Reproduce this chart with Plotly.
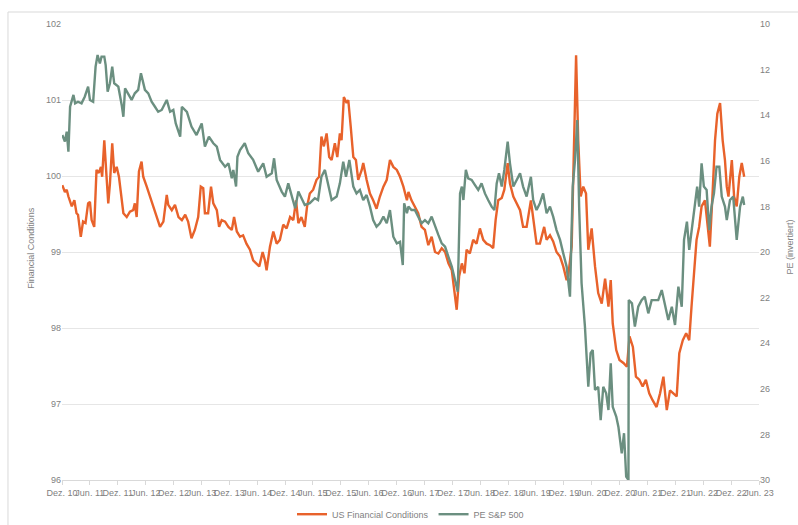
import plotly.graph_objects as go

# ---------------- data ----------------
fc_dates = [
    "2010-12-03","2010-12-20","2011-01-01","2011-01-12","2011-02-03","2011-02-20","2011-03-06","2011-03-16",
    "2011-04-03","2011-04-18","2011-05-04","2011-05-21","2011-06-02","2011-06-13","2011-06-30","2011-07-15",
    "2011-07-30","2011-08-13","2011-08-21","2011-09-04","2011-09-20","2011-09-30","2011-10-11","2011-10-26",
    "2011-11-08","2011-11-24","2011-12-09","2011-12-27","2012-01-07","2012-01-29","2012-02-19","2012-03-11",
    "2012-03-22","2012-04-03","2012-04-18","2012-05-05","2012-05-16","2012-06-08","2012-06-29","2012-07-21",
    "2012-08-12","2012-09-03","2012-09-25","2012-10-17","2012-10-27","2012-11-19","2012-12-10","2013-01-02",
    "2013-01-24","2013-02-15","2013-03-06","2013-03-28","2013-04-19","2013-05-11","2013-05-28","2013-06-13",
    "2013-06-24","2013-07-15","2013-08-03","2013-08-18","2013-09-10","2013-09-25","2013-10-12","2013-11-03",
    "2013-11-25","2013-12-17","2014-01-01","2014-01-19","2014-02-09","2014-03-01","2014-03-23","2014-04-15",
    "2014-05-06","2014-05-28","2014-06-15","2014-07-07","2014-07-22","2014-08-02","2014-08-24","2014-09-15",
    "2014-10-07","2014-10-28","2014-11-19","2014-12-11","2015-01-03","2015-01-24","2015-02-11","2015-02-26",
    "2015-03-18","2015-04-09","2015-04-24","2015-05-12","2015-06-03","2015-06-25","2015-07-12","2015-07-27",
    "2015-08-12","2015-08-30","2015-09-16","2015-10-02","2015-10-23","2015-11-08","2015-11-25","2015-12-06",
    "2015-12-21","2016-01-08","2016-01-19","2016-02-04","2016-02-21","2016-03-09","2016-03-24","2016-04-16",
    "2016-04-26","2016-05-18","2016-06-09","2016-06-30","2016-07-22","2016-08-13","2016-09-05","2016-09-27",
    "2016-10-18","2016-11-09","2016-12-02","2016-12-23","2017-01-14","2017-02-06","2017-02-16","2017-03-08",
    "2017-03-30","2017-04-21","2017-05-13","2017-06-04","2017-06-26","2017-07-18","2017-08-09","2017-08-31",
    "2017-09-22","2017-10-14","2017-11-05","2017-11-27","2017-12-13","2017-12-29","2018-01-14","2018-02-01",
    "2018-02-18","2018-03-04","2018-03-25","2018-04-16","2018-05-08","2018-05-30","2018-06-21","2018-07-13",
    "2018-08-04","2018-08-25","2018-09-10","2018-09-27","2018-10-20","2018-11-06","2018-11-28","2018-12-13",
    "2019-01-04","2019-01-26","2019-02-17","2019-03-09","2019-04-01","2019-04-29","2019-05-14","2019-06-05",
    "2019-06-27","2019-07-25","2019-08-10","2019-09-01","2019-09-22","2019-10-14","2019-11-06","2019-11-27",
    "2019-12-19","2019-12-29","2020-01-21","2020-02-06","2020-02-19","2020-03-04","2020-03-20","2020-04-06",
    "2020-04-24","2020-05-09","2020-05-31","2020-06-22","2020-07-13","2020-08-05","2020-08-27","2020-09-18",
    "2020-10-03","2020-10-16","2020-11-08","2020-11-29","2020-12-25","2021-01-17","2021-02-03","2021-02-25",
    "2021-03-17","2021-04-08","2021-04-30","2021-05-21","2021-06-12","2021-07-04","2021-07-30","2021-08-22",
    "2021-09-13","2021-10-05","2021-10-26","2021-11-17","2021-12-09","2021-12-26","2022-01-18","2022-02-09",
    "2022-03-01","2022-03-16","2022-04-01","2022-04-18","2022-05-05","2022-05-21","2022-06-12","2022-07-03",
    "2022-07-14","2022-08-02","2022-08-17","2022-09-01","2022-09-19","2022-10-06","2022-10-21","2022-11-02",
    "2022-11-13","2022-12-05","2022-12-20","2023-01-06","2023-01-23","2023-02-08","2023-02-24",
]
fc_values = [
    99.88, 99.79, 99.82, 99.73, 99.60, 99.68, 99.51, 99.49,
    99.20, 99.40, 99.38, 99.64, 99.66, 99.42, 99.33, 100.08,
    100.04, 100.12, 99.99, 100.47, 99.95, 99.64, 99.90, 100.43,
    100.04, 100.12, 99.99, 99.73, 99.51, 99.46, 99.53, 99.55,
    99.64, 99.46, 100.06, 100.19, 99.99, 99.86, 99.73, 99.60,
    99.44, 99.33, 99.40, 99.75, 99.62, 99.55, 99.62, 99.46,
    99.42, 99.49, 99.40, 99.18, 99.29, 99.46, 99.86, 99.84,
    99.51, 99.51, 99.86, 99.64, 99.55, 99.33, 99.42, 99.40,
    99.33, 99.29, 99.46, 99.27, 99.20, 99.22, 99.11, 99.03,
    98.89, 98.85, 98.81, 99.00, 98.89, 98.76, 99.07, 99.27,
    99.11, 99.16, 99.36, 99.31, 99.46, 99.42, 99.68, 99.38,
    99.46, 99.33, 99.60, 99.77, 99.82, 99.95, 99.99, 100.52,
    100.39, 100.56, 100.25, 100.21, 100.43, 100.25, 100.56, 100.47,
    101.04, 100.96, 101.00, 100.65, 100.25, 100.21, 99.95, 100.08,
    100.17, 99.95, 99.77, 99.68, 99.57, 99.73, 99.86, 99.95,
    100.21, 100.12, 100.08, 99.99, 99.86, 99.68, 99.79, 99.68,
    99.60, 99.51, 99.33, 99.29, 99.09, 99.20, 99.00, 98.98,
    99.05, 99.00, 98.85, 98.76, 98.50, 98.24, 98.68, 98.85,
    98.72, 99.03, 98.98, 99.16, 99.11, 99.31, 99.16, 99.11,
    99.09, 99.05, 99.42, 99.68, 99.71, 99.82, 100.17, 99.90,
    99.73, 99.64, 99.55, 99.33, 99.33, 99.68, 99.42, 99.11,
    99.11, 99.33, 99.16, 99.22, 99.14, 99.00, 98.94, 98.81,
    98.63, 98.68, 99.07, 100.39, 101.59, 100.47, 99.73, 99.86,
    99.77, 99.03, 99.31, 98.81, 98.46, 98.32, 98.65, 98.28,
    98.63, 98.06, 97.71, 97.58, 97.54, 97.49, 97.89, 97.75,
    97.36, 97.32, 97.23, 97.32, 97.14, 97.05, 96.96, 97.14,
    97.36, 96.92, 97.18, 97.14, 97.10, 97.67, 97.84, 97.93,
    97.84, 98.28, 98.72, 99.16, 99.33, 99.60, 99.68, 99.33,
    99.07, 99.82, 100.47, 100.82, 100.96, 100.47, 100.21, 99.86,
    99.73, 100.21, 99.73, 99.60, 99.99, 100.17, 99.99,
]

pe_dates = [
    "2010-12-03","2010-12-20","2011-01-01","2011-01-12","2011-01-23","2011-02-14","2011-02-25","2011-03-16",
    "2011-04-08","2011-04-29","2011-05-21","2011-06-02","2011-06-23","2011-07-09","2011-07-22","2011-08-06",
    "2011-08-17","2011-09-04","2011-09-13","2011-09-26","2011-10-11","2011-10-26","2011-11-08","2011-12-05",
    "2011-12-27","2012-01-07","2012-01-18","2012-02-09","2012-03-01","2012-03-22","2012-04-13","2012-05-01",
    "2012-05-09","2012-05-27","2012-06-18","2012-07-10","2012-08-01","2012-08-22","2012-09-14","2012-10-17",
    "2012-11-08","2012-11-29","2012-12-15","2013-01-13","2013-01-24","2013-02-26","2013-03-28","2013-04-30",
    "2013-06-03","2013-06-24","2013-07-20","2013-08-18","2013-09-10","2013-10-01","2013-11-03","2013-11-25",
    "2013-12-17","2013-12-27","2014-01-14","2014-01-23","2014-02-09","2014-03-12","2014-04-04","2014-05-06",
    "2014-06-08","2014-07-11","2014-08-02","2014-09-05","2014-09-20","2014-10-07","2014-11-09","2014-11-30",
    "2014-12-22","2015-01-14","2015-02-05","2015-02-26","2015-03-18","2015-04-09","2015-05-12","2015-06-14",
    "2015-07-05","2015-07-27","2015-08-19","2015-09-10","2015-10-02","2015-11-04","2015-11-25","2015-12-17",
    "2016-01-04","2016-01-26","2016-02-21","2016-03-13","2016-04-04","2016-04-26","2016-05-18","2016-06-09",
    "2016-06-30","2016-07-22","2016-08-13","2016-09-05","2016-09-27","2016-10-18","2016-11-09","2016-12-02",
    "2016-12-23","2017-01-10","2017-01-19","2017-02-06","2017-02-16","2017-03-08","2017-03-30","2017-04-21",
    "2017-05-13","2017-06-04","2017-06-26","2017-07-18","2017-08-09","2017-08-31","2017-09-22","2017-10-14",
    "2017-11-05","2017-11-27","2017-12-18","2018-01-05","2018-01-20","2018-02-01","2018-02-11","2018-02-27",
    "2018-03-14","2018-04-06","2018-04-27","2018-05-19","2018-06-10","2018-07-02","2018-07-23","2018-08-15",
    "2018-09-02","2018-09-17","2018-10-02","2018-10-20","2018-11-06","2018-11-28","2018-12-13","2019-01-04",
    "2019-01-26","2019-02-17","2019-03-09","2019-04-01","2019-04-29","2019-05-14","2019-06-05","2019-06-27",
    "2019-07-18","2019-08-10","2019-09-01","2019-09-22","2019-10-14","2019-11-06","2019-11-27","2019-12-19",
    "2020-01-10","2020-01-28","2020-02-12","2020-02-27","2020-03-10","2020-03-26","2020-04-17","2020-05-09",
    "2020-05-24","2020-06-07","2020-06-22","2020-07-13","2020-07-29","2020-08-15","2020-09-03","2020-09-18",
    "2020-10-03","2020-10-16","2020-11-08","2020-11-22","2020-12-14","2020-12-29","2021-01-12","2021-01-27",
    "2021-01-29","2021-02-19","2021-03-10","2021-04-01","2021-04-23","2021-05-14","2021-06-06","2021-06-28",
    "2021-07-19","2021-08-10","2021-09-02","2021-09-23","2021-10-15","2021-11-07","2021-11-28","2021-12-20",
    "2022-01-11","2022-01-26","2022-02-14","2022-03-01","2022-03-23","2022-04-07","2022-04-22","2022-05-05",
    "2022-05-21","2022-06-05","2022-06-23","2022-07-10","2022-07-25","2022-08-10","2022-08-27","2022-09-14",
    "2022-09-30","2022-10-21","2022-11-02","2022-11-23","2022-12-14","2023-01-06","2023-01-28","2023-02-15",
    "2023-02-24",
]
pe_values = [
    14.87, 15.16, 14.72, 15.60, 13.63, 13.11, 13.48, 13.41,
    13.48, 13.19, 12.75, 13.33, 13.41, 11.87, 11.36, 11.73,
    11.43, 11.43, 11.80, 12.97, 12.60, 11.87, 12.60, 12.75,
    13.55, 14.07, 12.82, 13.11, 13.33, 13.04, 12.89, 12.16,
    12.38, 12.89, 13.04, 13.41, 13.63, 13.85, 13.77, 13.33,
    13.85, 13.77, 14.36, 14.94, 13.63, 13.85, 14.50, 14.87,
    14.36, 15.38, 14.94, 15.23, 15.38, 15.96, 16.26, 16.11,
    16.77, 16.40, 17.13, 15.82, 15.53, 15.23, 15.67, 15.96,
    16.48, 16.11, 16.70, 16.55, 15.89, 16.84, 17.35, 17.57,
    16.99, 17.57, 18.08, 17.35, 17.64, 17.94, 17.86, 17.64,
    17.72, 16.70, 16.40, 17.13, 17.72, 17.57, 16.99, 16.04,
    16.70, 15.96, 17.13, 17.43, 17.28, 17.72, 17.50, 18.01,
    18.60, 18.89, 18.74, 18.45, 18.74, 18.16, 19.33, 19.62,
    19.55, 20.57, 17.86, 18.30, 18.01, 18.16, 18.16, 18.45,
    18.74, 18.60, 18.74, 18.45, 18.89, 19.25, 19.62, 19.77,
    20.21, 20.64, 21.23, 21.74, 17.43, 17.13, 17.72, 16.40,
    16.77, 16.84, 17.06, 17.28, 16.99, 17.43, 17.72, 18.01,
    18.16, 16.99, 16.55, 17.13, 16.40, 15.16, 16.11, 17.13,
    16.84, 16.55, 17.13, 17.57, 16.70, 17.72, 18.16, 17.86,
    17.43, 18.30, 18.01, 18.45, 19.04, 19.47, 20.06, 20.64,
    21.96, 17.13, 15.96, 14.21, 18.01, 21.37, 23.27, 25.91,
    24.44, 24.30, 26.05, 25.91, 27.37, 25.91, 26.20, 26.93,
    24.88, 26.79, 27.22, 27.66, 28.83, 27.95, 29.85, 30.00,
    22.11, 22.25, 23.27, 22.40, 22.11, 21.96, 22.69, 22.11,
    22.11, 22.11, 21.67, 22.25, 22.98, 22.40, 23.20, 21.52,
    22.40, 19.47, 18.67, 19.91, 18.74, 18.16, 17.13, 18.01,
    16.11, 17.13, 17.28, 19.04, 18.01, 17.43, 16.26, 16.26,
    17.57, 18.01, 18.60, 17.72, 17.57, 19.47, 18.01, 17.57,
    17.94,
]

tick_dates = [
    "2010-12-01","2011-06-01","2011-12-01","2012-06-01","2012-12-01","2013-06-01","2013-12-01",
    "2014-06-01","2014-12-01","2015-06-01","2015-12-01","2016-06-01","2016-12-01","2017-06-01",
    "2017-12-01","2018-06-01","2018-12-01","2019-06-01","2019-12-01","2020-06-01","2020-12-01",
    "2021-06-01","2021-12-01","2022-06-01","2022-12-01","2023-06-01",
]
tick_labels = [
    "Dez. 10","Jun. 11","Dez. 11","Jun. 12","Dez. 12","Jun. 13","Dez. 13",
    "Jun. 14","Dez. 14","Jun. 15","Dez. 15","Jun. 16","Dez. 16","Jun. 17",
    "Dez. 17","Jun. 18","Dez. 18","Jun. 19","Dez. 19","Jun. 20","Dez. 20",
    "Jun. 21","Dez. 21","Jun. 22","Dez. 22","Jun. 23",
]

series_names = ["US Financial Conditions", "PE S&P 500"]
axis_titles = ["Financial Conditions", "PE (invertiert)"]

# ---------------- style ----------------
ORANGE = "#E8622B"
GREEN = "#6B8F80"
TEXT = "#7F7F7F"
FONT = "Liberation Sans Narrow, Arial Narrow, Liberation Sans, Arial, sans-serif"

fig = go.Figure()
fig.add_trace(go.Scatter(x=fc_dates, y=fc_values, name=series_names[0], mode="lines",
                         line=dict(color=ORANGE, width=2.4), yaxis="y"))
fig.add_trace(go.Scatter(x=pe_dates, y=pe_values, name=series_names[1], mode="lines",
                         line=dict(color=GREEN, width=2.4), yaxis="y2"))

fig.update_layout(
    width=798, height=525,
    margin=dict(l=62, r=39, t=24, b=45, autoexpand=False),
    paper_bgcolor="white", plot_bgcolor="white",
    font=dict(family=FONT, size=9, color=TEXT),
    showlegend=True,
    legend=dict(orientation="h", x=0.5, xanchor="center", y=-0.075, yanchor="middle",
                font=dict(size=9, color=TEXT), itemwidth=30, traceorder="normal",
                bgcolor="rgba(0,0,0,0)"),
    xaxis=dict(type="date", range=["2010-12-01", "2023-06-01"],
               tickmode="array", tickvals=tick_dates, ticktext=tick_labels,
               tickangle=0, showgrid=False, zeroline=False, automargin=False,
               showline=True, linecolor="#D9D9D9", linewidth=1,
               ticks="outside", ticklen=4, tickcolor="#D9D9D9",
               tickfont=dict(size=9, color=TEXT)),
    yaxis=dict(range=[96, 102], dtick=1, showgrid=True, gridcolor="#E6E6E6",
               zeroline=False, showline=False, ticks="", automargin=False,
               tickfont=dict(size=9, color=TEXT)),
    yaxis2=dict(range=[30, 10], dtick=2, overlaying="y", side="right", showgrid=False,
                zeroline=False, showline=False, ticks="", automargin=False,
                tickfont=dict(size=9, color=TEXT)),
    annotations=[
        dict(text=axis_titles[0], xref="paper", yref="paper", x=-0.044, y=0.51,
             textangle=-90, showarrow=False, font=dict(size=9, color=TEXT),
             xanchor="center", yanchor="middle"),
        dict(text=axis_titles[1], xref="paper", yref="paper", x=1.0445, y=0.51,
             textangle=-90, showarrow=False, font=dict(size=9, color=TEXT),
             xanchor="center", yanchor="middle"),
    ],
    shapes=[dict(type="rect", xref="paper", yref="paper",
                 x0=-0.0775, x1=1.07, y0=-0.12, y1=1.0263,
                 line=dict(color="#D9D9D9", width=1), fillcolor="rgba(0,0,0,0)", layer="below")],
)

fig.write_html(
    "out.html",
    config={"displayModeBar": False},
    post_script="document.body.style.margin='0';document.body.style.overflow='hidden';",
)
